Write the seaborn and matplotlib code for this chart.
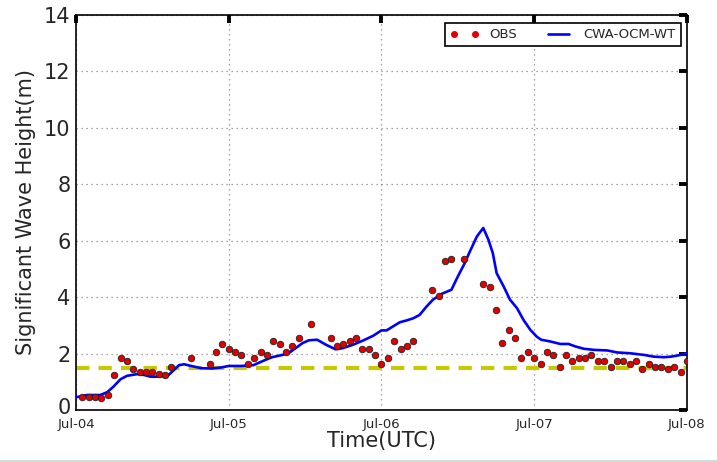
import numpy as np
import pandas as pd
import matplotlib
matplotlib.use("Agg")
import matplotlib.pyplot as plt
import matplotlib.dates as mdates
import matplotlib.transforms as mtransforms
from matplotlib.lines import Line2D
import seaborn as sns

# Observed significant wave height (hours after Jul-04 00 UTC, metres)
obs_hours = [1, 2, 3, 4, 5, 6, 7, 8, 9, 10, 11, 12, 13, 14, 15, 18,
             21, 22, 23, 24, 25, 26, 27, 28, 29, 30, 31, 32, 33, 34, 35, 37,
             40, 41, 42, 43, 44, 45, 46, 47, 48, 49, 50, 51, 52, 53,
             56, 57, 58, 59, 61, 64, 65, 66, 67, 68, 69, 70, 71, 72, 73, 74,
             75, 76, 77, 78, 79, 80, 81, 82, 83, 84, 85, 86, 87, 88, 89, 90,
             91, 92, 93, 94, 95, 96]
obs_hs = [0.45, 0.45, 0.45, 0.43, 0.54, 1.24, 1.85, 1.74, 1.44, 1.33, 1.34, 1.33, 1.27, 1.24, 1.54, 1.85,
          1.64, 2.05, 2.34, 2.15, 2.05, 1.95, 1.64, 1.85, 2.05, 1.95, 2.44, 2.34, 2.05, 2.25, 2.54, 3.05,
          2.54, 2.25, 2.34, 2.44, 2.54, 2.15, 2.15, 1.95, 1.64, 1.85, 2.45, 2.15, 2.25, 2.45,
          4.26, 4.05, 5.27, 5.36, 5.36, 4.46, 4.36, 3.55, 2.36, 2.85, 2.54, 1.85, 2.05, 1.85, 1.64, 2.05,
          1.95, 1.54, 1.95, 1.74, 1.85, 1.85, 1.95, 1.74, 1.74, 1.54, 1.74, 1.74, 1.64, 1.74, 1.44, 1.64,
          1.54, 1.54, 1.44, 1.54, 1.34, 1.74]

# CWA-OCM-WT model significant wave height
model_hours = [0, 1.7, 3.8, 4.9, 5.9, 7.0, 8.0, 9.6, 10.7, 11.7, 12.8, 14.4, 15.4, 16.2, 17.0,
               18.1, 19.7, 21.3, 22.9, 24.0, 26.0, 27.9, 29.2, 30.8, 32.4, 33.4, 34.5, 35.6,
               36.6, 37.9, 39.3, 40.8, 41.9, 43.5, 45.1, 46.7, 48.0, 48.8, 49.8, 50.9, 51.9,
               53.0, 54.0, 55.1, 56.1, 57.5, 59.0, 60.0, 61.1, 61.9, 63.0, 64.0, 64.8, 65.5,
               66.1, 67.2, 68.2, 69.3, 70.3, 71.4, 72.4, 73.1, 74.5, 76.1, 77.4, 78.5, 79.8,
               81.4, 83.5, 85.0, 87.1, 89.3, 90.8, 92.4, 93.5, 95.0, 96.0]
model_hs = [0.45, 0.53, 0.53, 0.63, 0.83, 1.09, 1.21, 1.27, 1.24, 1.18, 1.18, 1.21, 1.42, 1.59, 1.62,
            1.56, 1.48, 1.47, 1.51, 1.56, 1.56, 1.59, 1.72, 1.87, 1.95, 2.01, 2.19, 2.37,
            2.47, 2.49, 2.31, 2.15, 2.19, 2.31, 2.46, 2.63, 2.82, 2.82, 2.96, 3.11, 3.17,
            3.25, 3.37, 3.67, 3.91, 4.12, 4.26, 4.73, 5.21, 5.62, 6.15, 6.45, 6.04, 5.56,
            4.85, 4.38, 3.91, 3.61, 3.20, 2.84, 2.60, 2.49, 2.43, 2.34, 2.34, 2.25, 2.17,
            2.13, 2.11, 2.04, 2.01, 1.95, 1.89, 1.87, 1.89, 1.95, 2.01]

threshold = 1.5
date_ticks = ["2000-07-04", "2000-07-05", "2000-07-06", "2000-07-07", "2000-07-08"]
y_ticks = [0, 2, 4, 6, 8, 10, 12, 14]

start = pd.Timestamp(date_ticks[0])
obs = pd.DataFrame({"time": start + pd.to_timedelta(obs_hours, unit="h"), "hs": obs_hs})
model = pd.DataFrame({"time": start + pd.to_timedelta(model_hours, unit="h"), "hs": model_hs})

sns.set_style("white")
plt.rcParams["font.family"] = ["DejaVu Sans"]

fig = plt.figure(figsize=(7.17, 4.62), dpi=100)
ax = fig.add_axes([0.106, 0.1126, 0.852, 0.855])

ax.axhline(threshold, color="#c8c800", lw=3, ls=(0, (3.2, 2.2)), zorder=2)
sns.lineplot(data=model, x="time", y="hs", ax=ax, color="#0000ff", lw=1.9,
             zorder=3, legend=False)
sns.scatterplot(data=obs, x="time", y="hs", ax=ax, color="#e00000", s=22,
                edgecolor="#222222", linewidth=0.6, zorder=4, legend=False)

ax.set_xlim(pd.Timestamp(date_ticks[0]), pd.Timestamp(date_ticks[-1]))
ax.set_ylim(0, 14)
ax.set_xticks(pd.to_datetime(date_ticks))
ax.xaxis.set_major_formatter(mdates.DateFormatter("%b-%d"))
ax.set_yticks(y_ticks)
ax.grid(True, color="#888888", ls=(0, (1, 3)), lw=0.9)

ax.tick_params(axis="both", which="major", direction="in", length=6, width=2.8,
               top=True, right=True, color="black")
ax.tick_params(axis="x", labelsize=9.5, pad=6)
ax.tick_params(axis="y", labelsize=15, pad=4)
for side in ax.spines.values():
    side.set_color("black")
    side.set_linewidth(1.2)

# nudge the "0" label up so it clears the first date label
fig.canvas.draw()
zero_label = ax.get_yticklabels()[0]
zero_label.set_transform(zero_label.get_transform()
                         + mtransforms.ScaledTranslation(0, 4 / 100, fig.dpi_scale_trans))

ax.set_xlabel("Time(UTC)", fontsize=15, labelpad=0)
ax.set_ylabel("Significant Wave Height(m)", fontsize=15, labelpad=6)

handles = [
    Line2D([0], [0], ls="none", marker="o", markersize=4, markerfacecolor="#e00000",
           markeredgecolor="#e00000"),
    Line2D([0], [0], color="#0000ff", lw=1.9),
]
leg = ax.legend(handles, ["OBS", "CWA-OCM-WT"], loc="upper right", ncol=2,
                numpoints=2, fontsize=9.5, frameon=True, fancybox=False,
                framealpha=1, edgecolor="black", borderaxespad=0.0,
                handlelength=2.2, columnspacing=2.0,
                bbox_to_anchor=(0.99, 0.98))
leg.get_frame().set_linewidth(1.2)

fig.add_artist(Line2D([0, 1], [0.003, 0.003], transform=fig.transFigure,
                      color="#d0dcda", lw=1.5))

fig.savefig("out.png", dpi=100)
